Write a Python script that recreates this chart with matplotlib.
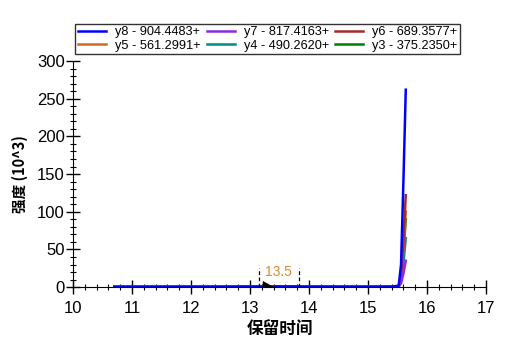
import matplotlib
matplotlib.use("Agg")
import matplotlib.pyplot as plt
from matplotlib.ticker import MultipleLocator

plt.rcParams['font.family'] = ['Liberation Sans', 'Noto Sans CJK SC', 'DejaVu Sans']

# retention time points (min)
times = [10.7, 11.5, 12.5, 13.2, 13.5, 14.0, 14.5, 15.0, 15.4, 15.52, 15.56, 15.6, 15.64]
series_names = ["y8 - 904.4483+", "y7 - 817.4163+", "y6 - 689.3577+",
                "y5 - 561.2991+", "y4 - 490.2620+", "y3 - 375.2350+"]
series_colors = ["#0000FF", "#8A2BE2", "#A52A2A", "#D2691E", "#008B8B", "#008000"]
y8 = [0.4, 0.4, 0.4, 0.6, 0.8, 0.5, 0.4, 0.4, 0.5, 2, 30, 140, 262]
y7 = [0.3, 0.3, 0.3, 0.5, 1.0, 0.4, 0.3, 0.3, 0.4, 1, 5, 18, 35]
y6 = [0.3, 0.3, 0.3, 0.5, 0.6, 0.4, 0.3, 0.3, 0.4, 1, 12, 60, 122]
y5 = [0.3, 0.3, 0.3, 0.5, 0.6, 0.4, 0.3, 0.3, 0.4, 1, 10, 50, 100]
y4 = [0.3, 0.3, 0.3, 0.5, 0.6, 0.4, 0.3, 0.3, 0.4, 1, 7, 32, 65]
y3 = [0.3, 0.3, 0.3, 0.6, 0.6, 0.4, 0.3, 0.3, 0.4, 1, 9, 45, 90]
series_values = [y8, y7, y6, y5, y4, y3]

# integrated peak (black fill) near 13.3 min
peak_times = [13.2, 13.21, 13.25, 13.3, 13.35, 13.45]
peak_values = [0, 9, 7, 5, 2.5, 0.3]
peak_label = "13.5"
peak_bounds = [13.15, 13.83]

fig = plt.figure(figsize=(5.07, 3.51), dpi=100)
ax = fig.add_axes([0.144, 0.182, 0.8146, 0.644])

order = [5, 4, 3, 2, 1, 0]
handles = {}
for i in order:
    h, = ax.plot(times, series_values[i], color=series_colors[i], lw=1.8, label=series_names[i])
    handles[i] = h

ax.fill_between(peak_times, peak_values, color='black', lw=0, zorder=3)
for b in peak_bounds:
    ax.plot([b, b], [0, 26], color='black', lw=0.9, ls=(0, (3, 2)))
ax.text(sum(peak_bounds) / 2, 20, peak_label, color='#E08A2C', fontsize=10, ha='center', va='center')

ax.set_xlim(10, 17)
ax.set_ylim(0, 300)
ax.xaxis.set_major_locator(MultipleLocator(1))
ax.xaxis.set_minor_locator(MultipleLocator(0.2))
ax.yaxis.set_major_locator(MultipleLocator(50))
ax.yaxis.set_minor_locator(MultipleLocator(10))
ax.tick_params(which='major', direction='inout', length=10, width=1, labelsize=12, colors='black')
ax.tick_params(axis='y', which='major', pad=1)
ax.tick_params(axis='x', which='major', pad=5)
ax.tick_params(which='minor', direction='inout', length=5, width=0.8)
ax.spines['top'].set_visible(False)
ax.spines['right'].set_visible(False)

ax.set_xlabel("保留时间", fontsize=12, fontweight='bold', family=['Noto Sans CJK SC'], labelpad=3)
ax.set_ylabel("强度 (10^3)", fontsize=10.5, fontweight='bold', family=['Noto Sans CJK SC', 'DejaVu Sans'], labelpad=6)

leg = ax.legend([handles[i] for i in [0, 3, 1, 4, 2, 5]],
                [series_names[i] for i in [0, 3, 1, 4, 2, 5]],
                ncol=3, loc='lower left', bbox_to_anchor=(0.005, 1.03),
                fontsize=9.2, frameon=True, fancybox=False,
                edgecolor='black', borderpad=0.2, handlelength=2.2, labelspacing=0.12,
                columnspacing=0.5, handletextpad=0.7, borderaxespad=0)
leg.get_frame().set_linewidth(1.0)

fig.savefig("out.png", dpi=100)
